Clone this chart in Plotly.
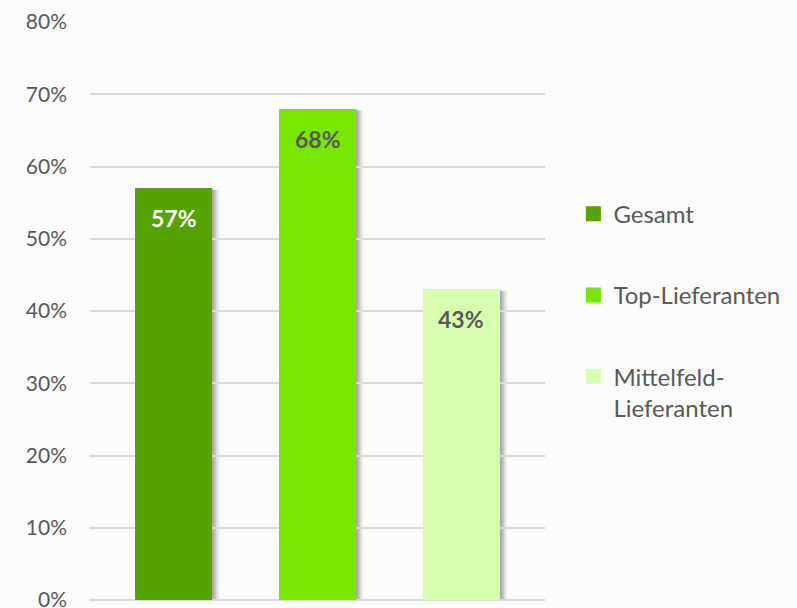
import plotly.graph_objects as go

# Values
series_names = ["Gesamt", "Top-Lieferanten", "Mittelfeld-<br>Lieferanten"]
series_values = [57, 68, 43]
series_colors = ["#55a200", "#77e600", "#d6ffb0"]
label_colors = ["#ffffff", "#595959", "#595959"]
y_tick_values = [0, 10, 20, 30, 40, 50, 60, 70, 80]
y_tick_labels = ["0%", "10%", "20%", "30%", "40%", "50%", "60%", "70%", "80%"]

FONT = "Lato, 'Open Sans', sans-serif"
BAR_W = 0.535

fig = go.Figure()

# soft drop shadows behind each bar
shadow_layers = [(0.05, 0.06), (0.038, 0.08), (0.026, 0.10), (0.014, 0.12)]
for i, v in enumerate(series_values):
    for dx, op in shadow_layers:
        fig.add_shape(
            type="rect", xref="x", yref="y", layer="below",
            x0=i - BAR_W / 2 + dx, x1=i + BAR_W / 2 + dx,
            y0=0, y1=v - dx * 6,
            fillcolor=f"rgba(0,0,0,{op})", line=dict(width=0),
        )

for i, (name, v, c) in enumerate(zip(series_names, series_values, series_colors)):
    fig.add_trace(go.Bar(
        x=[i], y=[v], name=name, width=BAR_W,
        marker=dict(color=c, line=dict(width=0)),
        showlegend=False, hoverinfo="skip",
    ))
    # legend entry with a larger square swatch
    fig.add_trace(go.Scatter(
        x=[None], y=[None], name=name, mode="markers",
        marker=dict(symbol="square", size=15, color=c, line=dict(width=0)),
        legendgroup=f"g{i}", hoverinfo="skip",
    ))
    fig.add_annotation(
        x=i, y=v, xref="x", yref="y", text=f"<b>{v}%</b>",
        showarrow=False, yshift=-30,
        font=dict(family=FONT, size=23, color=label_colors[i]),
    )

fig.update_layout(
    width=797, height=608,
    margin=dict(l=90, r=252, t=22, b=8, autoexpand=False),
    paper_bgcolor="#fcfcfc", plot_bgcolor="#fcfcfc",
    font=dict(family=FONT, size=20, color="#595959"),
    bargap=0,
    showlegend=True,
    legend=dict(
        x=1.0624, y=0.7065, xanchor="left", yanchor="top",
        tracegroupgap=47, valign="top", itemsizing="trace",
        font=dict(family=FONT, size=24, color="#595959"),
        bgcolor="rgba(0,0,0,0)", itemwidth=30,
    ),
    xaxis=dict(
        range=[-0.58, 2.58], showgrid=False, zeroline=False,
        showticklabels=False, fixedrange=True, automargin=False,
    ),
    yaxis=dict(
        range=[0, 80], tickvals=y_tick_values, ticktext=y_tick_labels,
        showgrid=True, gridcolor="#d9d9d9", gridwidth=1.5,
        zeroline=True, zerolinecolor="#d9d9d9", zerolinewidth=1.5,
        ticklabelstandoff=22, ticklabeloverflow="allow", automargin=False,
        tickfont=dict(family=FONT, size=21, color="#595959"),
    ),
)

fig.write_html("out.html")
